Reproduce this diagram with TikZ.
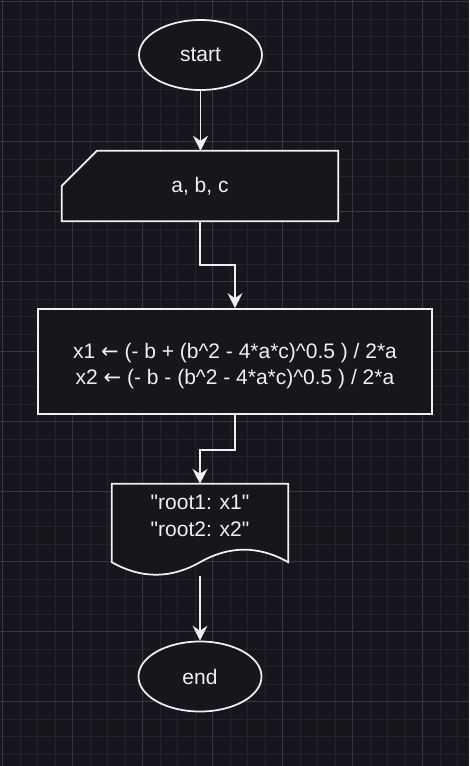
\documentclass[tikz,border=0pt]{standalone}
\usepackage{fontspec}
\setmainfont{Liberation Sans}[Ligatures=TeXOff]
\newfontfamily\arrowfont{DejaVu Sans}
\newcommand{\assignarrow}{{\arrowfont ←}}
\usepackage{tikz}
\usetikzlibrary{shapes.geometric, arrows.meta, positioning, calc}
\definecolor{canvasbg}{RGB}{24,22,29}
\definecolor{gridminor}{RGB}{37,35,43}
\definecolor{gridmajor}{RGB}{56,54,62}
\definecolor{inkwhite}{RGB}{240,240,240}
\pgfdeclarelayer{gridlayer}
\pgfdeclarelayer{shapelayer}
\pgfsetlayers{gridlayer,shapelayer,main}
\tikzset{
    chartfont/.style={font=\fontsize{21}{26.5}\selectfont, text=inkwhite},
    terminal/.style={ellipse, draw=inkwhite, fill=canvasbg, line width=1.75pt,
        minimum width=123pt, minimum height=70pt, inner sep=0pt, chartfont},
    process/.style={rectangle, draw=inkwhite, fill=canvasbg, line width=1.75pt,
        minimum width=394pt, minimum height=105pt, align=center, chartfont},
    manualin/.style={rectangle, minimum width=276pt, minimum height=70pt, chartfont},
    docbox/.style={rectangle, minimum width=176pt, minimum height=64pt,
        align=center, chartfont},
    shapeline/.style={draw=inkwhite, fill=canvasbg, line width=1.75pt},
    flow/.style={draw=inkwhite, line width=1.75pt,
        -{Stealth[length=15pt, width=15pt, inset=5pt]}}
}

\begin{document}
\begin{tikzpicture}[x=1pt, y=-1pt]
    \useasboundingbox (0,0) rectangle (469,766);
    % Canvas with grid
    \begin{pgfonlayer}{gridlayer}
        \fill[canvasbg] (0,0) rectangle (469,766);
        \foreach \k in {0,...,26} {
            \draw[gridminor, line width=1pt] ({2.7+17.5*\k},0) -- ++(0,766);
        }
        \foreach \k in {0,...,43} {
            \draw[gridminor, line width=1pt] (0,{1.7+17.5*\k}) -- ++(469,0);
        }
        \foreach \k in {0,4,...,24} {
            \draw[gridmajor, line width=1pt] ({2.7+17.5*\k},0) -- ++(0,766);
        }
        \foreach \k in {0,4,...,40} {
            \draw[gridmajor, line width=1pt] (0,{1.7+17.5*\k}) -- ++(469,0);
        }
    \end{pgfonlayer}
    % Flowchart nodes
    \node[terminal] (start) at (200.5,55) {start};
    \node[manualin] (input) at (200,186) {a, b, c};
    \node[process] (calc) at (235,361.5)
        {\rule{0pt}{24pt}x1 \assignarrow\ (- b + (b\textasciicircum 2 - 4*a*c)\textasciicircum 0.5 ) / 2*a\\
         x2 \assignarrow\ (- b - (b\textasciicircum 2 - 4*a*c)\textasciicircum 0.5 ) / 2*a};
    \node[docbox] (out) at (200,516) {"root1: x1"\\"root2: x2"};
    \node[terminal] (end) at (200,676.5) {end};
    % Outlines of the special shapes
    \begin{pgfonlayer}{shapelayer}
        \filldraw[shapeline] ($(input.north west)+(35,0)$) -- (input.north east)
            -- (input.south east) -- (input.south west)
            -- ($(input.north west)+(0,35)$) -- cycle;
        \filldraw[shapeline] (out.north west) -- (out.north east)
            -- ($(out.south east)+(0,14)$)
            .. controls +(-29.3,-16.7) and +(29.3,-16.7) .. ($(out.south)+(0,14)$)
            .. controls +(-29.3,16.7) and +(29.3,16.7) .. ($(out.south west)+(0,14)$)
            -- cycle;
    \end{pgfonlayer}
    \coordinate (outfoot) at ($(out.south)+(0,28)$);
    % Connectors
    \draw[flow] (start.south) -- (start.south |- input.north);
    \draw[flow] (input.south) -- ++(0,43.5) -| (calc.north);
    \draw[flow] (calc.south) -- ++(0,35) -| (out.north);
    \draw[flow] (outfoot) -- (end.north);
\end{tikzpicture}
\end{document}
